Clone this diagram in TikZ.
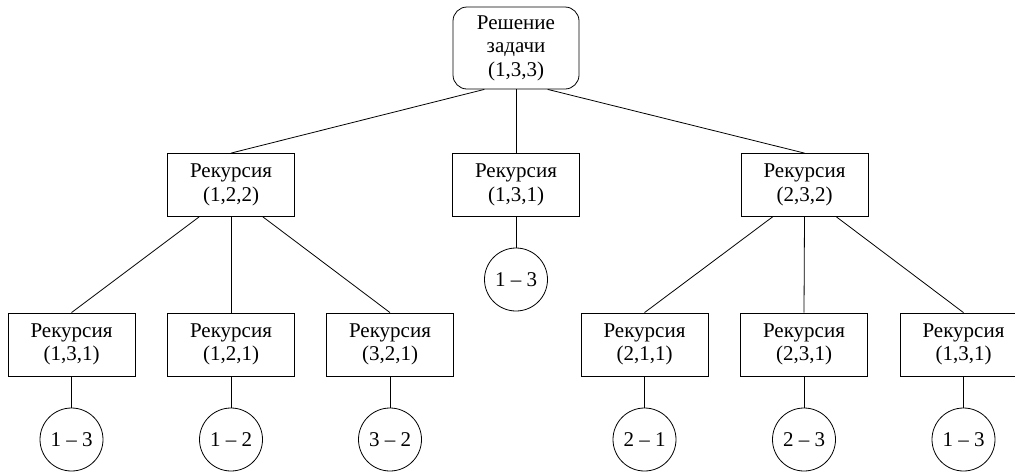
\documentclass[tikz,border=0pt]{standalone}
\usepackage{fontspec}
\setmainfont{Liberation Serif}
\usetikzlibrary{calc}

\begin{document}
\begin{tikzpicture}[x=1pt, y=-1pt,
  every node/.style={font=\fontsize{21}{23.5}\selectfont, align=center, inner sep=0pt},
  rootbox/.style={draw, line width=0.8pt, rounded corners=14pt,
    minimum width=126pt, minimum height=82pt},
  recbox/.style={draw, line width=0.8pt, minimum width=127pt, minimum height=63pt},
  movecirc/.style={draw, circle, line width=0.8pt, minimum size=63pt},
  link/.style={line width=0.8pt}]

  \useasboundingbox (0,0) rectangle (1015,472);
  \clip (0,0) rectangle (1015,472);

  % root of the call tree
  \node[rootbox] (root) at (516,48) {Решение\\задачи\\(1,3,3)};

  % first level of recursion
  \node[recbox] (a) at (231,185)   {Рекурсия\\(1,2,2)};
  \node[recbox] (b) at (516,185)   {Рекурсия\\(1,3,1)};
  \node[recbox] (c) at (804.5,185) {Рекурсия\\(2,3,2)};
  \node[movecirc] (bm) at (516,279.5) {1 – 3};

  % second level of recursion
  \node[recbox] (a1) at (71.5,344.5)  {Рекурсия\\(1,3,1)};
  \node[recbox] (a2) at (231,344.5)   {Рекурсия\\(1,2,1)};
  \node[recbox] (a3) at (390,344.5)   {Рекурсия\\(3,2,1)};
  \node[recbox] (c1) at (644.5,344.5) {Рекурсия\\(2,1,1)};
  \node[recbox] (c2) at (804,344.5)   {Рекурсия\\(2,3,1)};
  \node[recbox] (c3) at (963.5,344.5) {Рекурсия\\(1,3,1)};

  % single disk moves
  \node[movecirc] (a1m) at (71.5,439.5)  {1 – 3};
  \node[movecirc] (a2m) at (231,439.5)   {1 – 2};
  \node[movecirc] (a3m) at (390,439.5)   {3 – 2};
  \node[movecirc] (c1m) at (644.5,439.5) {2 – 1};
  \node[movecirc] (c2m) at (804,439.5)   {2 – 3};
  \node[movecirc] (c3m) at (963.5,439.5) {1 – 3};

  % connectors: left/right children leave from a quarter of the bottom edge
  \draw[link] ($(root.south west)!0.25!(root.south east)$) -- (a.north);
  \draw[link] (root.south) -- (b.north);
  \draw[link] ($(root.south west)!0.75!(root.south east)$) -- (c.north);
  \draw[link] (b.south) -- (bm.north);

  \draw[link] ($(a.south west)!0.25!(a.south east)$) -- (a1.north);
  \draw[link] (a.south) -- (a2.north);
  \draw[link] ($(a.south west)!0.75!(a.south east)$) -- (a3.north);

  \draw[link] ($(c.south west)!0.25!(c.south east)$) -- (c1.north);
  \draw[link] (c.south) -- (c2.north);
  \draw[link] ($(c.south west)!0.75!(c.south east)$) -- (c3.north);

  \foreach \n in {a1,a2,a3,c1,c2,c3}
    \draw[link] (\n.south) -- (\n m.north);
\end{tikzpicture}
\end{document}
